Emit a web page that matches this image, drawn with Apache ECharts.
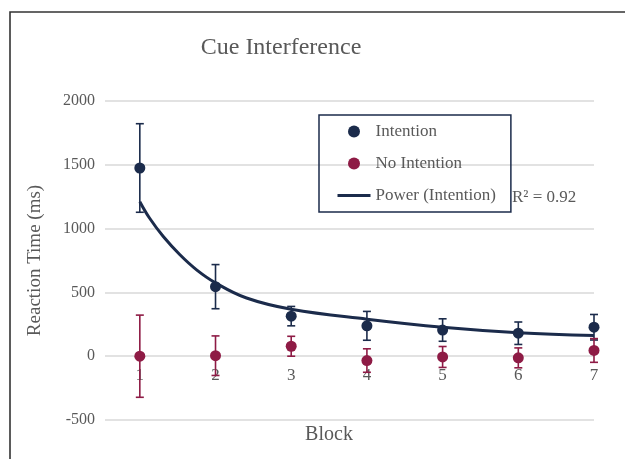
<!DOCTYPE html>
<html>
<head>
<meta charset="utf-8">
<script src="https://cdn.jsdelivr.net/npm/echarts@6/dist/echarts.min.js"></script>
<style>
html,body{margin:0;padding:0;background:#fff;}
#chart{width:625px;height:459px;}
</style>
</head>
<body>
<div id="chart"></div>
<script>
// Data
const blocks = [1, 2, 3, 4, 5, 6, 7];
const xTickLabels = ['1', '2', '3', '4', '5', '6', '7'];
const intentionMean = [1475, 545, 314, 238, 205, 180, 227];
const intentionErr = [347, 173, 76, 113, 88, 88, 100];
const noIntentionMean = [0, 4, 78, -34, -6, -13, 45];
const noIntentionErr = [322, 155, 78, 92, 82, 78, 93];
// Power trendline points
const trendX = [1, 1.13, 1.31, 1.53, 1.75, 2, 2.41, 3, 4, 5, 6, 7];
const trendY = [1211, 1081, 938, 795, 677, 575, 456, 368, 290, 227, 184, 162];
const yTicks = [-500, 0, 500, 1000, 1500, 2000];

const NAVY = '#1b2b4b';
const RED = '#8e1b45';
const GRAY = '#595959';
const SERIF = '"Liberation Serif", "Times New Roman", serif';

const GRID_TOP = 101, GRID_BOTTOM = 39, H = 459;
const Y_MIN = -500, Y_MAX = 2000;
// distance from the bottom of the grid up to the y = 0 line
const plotH = H - GRID_TOP - GRID_BOTTOM;
const zeroOffset = -plotH * (0 - Y_MIN) / (Y_MAX - Y_MIN);

function pairs(xs, ys) { return xs.map((x, i) => [x, ys[i]]); }
function errData(xs, m, e) { return xs.map((x, i) => [x, m[i] - e[i], m[i] + e[i]]); }

function errRender(color) {
  return function (params, api) {
    const x = api.value(0);
    const lo = api.coord([x, api.value(1)]);
    const hi = api.coord([x, api.value(2)]);
    const hw = 4;
    const style = { stroke: color, lineWidth: 1.6 };
    return {
      type: 'group',
      children: [
        { type: 'line', shape: { x1: lo[0], y1: lo[1], x2: hi[0], y2: hi[1] }, style },
        { type: 'line', shape: { x1: lo[0] - hw, y1: lo[1], x2: lo[0] + hw, y2: lo[1] }, style },
        { type: 'line', shape: { x1: hi[0] - hw, y1: hi[1], x2: hi[0] + hw, y2: hi[1] }, style }
      ]
    };
  };
}

const chart = echarts.init(document.getElementById('chart'), null, { renderer: 'canvas' });
chart.setOption({
  animation: false,
  backgroundColor: '#fff',
  textStyle: { fontFamily: SERIF },
  grid: { left: 105, right: 31, top: GRID_TOP, bottom: GRID_BOTTOM, containLabel: false },
  graphic: [
    { type: 'polyline', z: 100, shape: { points: [[10, 470], [10, 12], [640, 12]] },
      style: { stroke: '#333', lineWidth: 1.6, fill: null } },
    { type: 'text', style: { text: 'Cue Interference', x: 281, y: 48, font: '24px ' + SERIF, fill: GRAY, textAlign: 'center', textVerticalAlign: 'middle' } },
    { type: 'text', style: { text: 'Block', x: 329, y: 435, font: '20px ' + SERIF, fill: GRAY, textAlign: 'center', textVerticalAlign: 'middle' } },
    { type: 'text', style: { text: 'R² = 0.92', x: 512, y: 198, font: '17px ' + SERIF, fill: GRAY, textAlign: 'left', textVerticalAlign: 'middle' } }
  ],
  legend: {
    orient: 'vertical',
    left: 319, top: 115,
    padding: [8, 15, 8, 17],
    borderColor: NAVY, borderWidth: 1.5,
    itemWidth: 33, itemHeight: 12, itemGap: 15,
    textStyle: { fontFamily: SERIF, fontSize: 17, color: GRAY, lineHeight: 16 },
    data: [
      { name: 'Intention', icon: 'circle' },
      { name: 'No Intention', icon: 'circle' },
      { name: 'Power (Intention)', itemStyle: { color: 'rgba(0,0,0,0)', borderWidth: 0, opacity: 0 }, lineStyle: { color: NAVY, width: 3 } }
    ]
  },
  xAxis: {
    type: 'value', min: 0.54, max: 7,
    offset: zeroOffset,
    axisLine: { show: false, onZero: false },
    axisTick: { show: false },
    splitLine: { show: false },
    axisLabel: { customValues: blocks, formatter: v => xTickLabels[blocks.indexOf(v)] || '',
      color: GRAY, fontFamily: SERIF, fontSize: 17, margin: 11 }
  },
  yAxis: {
    type: 'value', min: Y_MIN, max: Y_MAX, interval: 500,
    name: 'Reaction Time (ms)', nameLocation: 'middle', nameGap: 60,
    nameTextStyle: { fontFamily: SERIF, fontSize: 19, color: GRAY },
    axisLine: { show: false }, axisTick: { show: false },
    axisLabel: { color: GRAY, fontFamily: SERIF, fontSize: 16, margin: 10,
      formatter: v => (yTicks.indexOf(v) >= 0 ? String(v) : '') },
    splitLine: { lineStyle: { color: '#d9d9d9', width: 1.5 } }
  },
  series: [
    { name: 'Intention err', type: 'custom', renderItem: errRender(NAVY), data: errData(blocks, intentionMean, intentionErr), z: 3, silent: true },
    { name: 'No Intention err', type: 'custom', renderItem: errRender(RED), data: errData(blocks, noIntentionMean, noIntentionErr), z: 3, silent: true },
    { name: 'Intention', type: 'scatter', symbol: 'circle', symbolSize: 11, itemStyle: { color: NAVY, opacity: 1 }, data: pairs(blocks, intentionMean), z: 5 },
    { name: 'No Intention', type: 'scatter', symbol: 'circle', symbolSize: 11, itemStyle: { color: RED, opacity: 1 }, data: pairs(blocks, noIntentionMean), z: 5 },
    { name: 'Power (Intention)', type: 'line', smooth: 0.4, symbol: 'none', showSymbol: false,
      lineStyle: { color: NAVY, width: 3 }, itemStyle: { color: NAVY }, data: pairs(trendX, trendY), z: 4 }
  ]
});
</script>
</body>
</html>
